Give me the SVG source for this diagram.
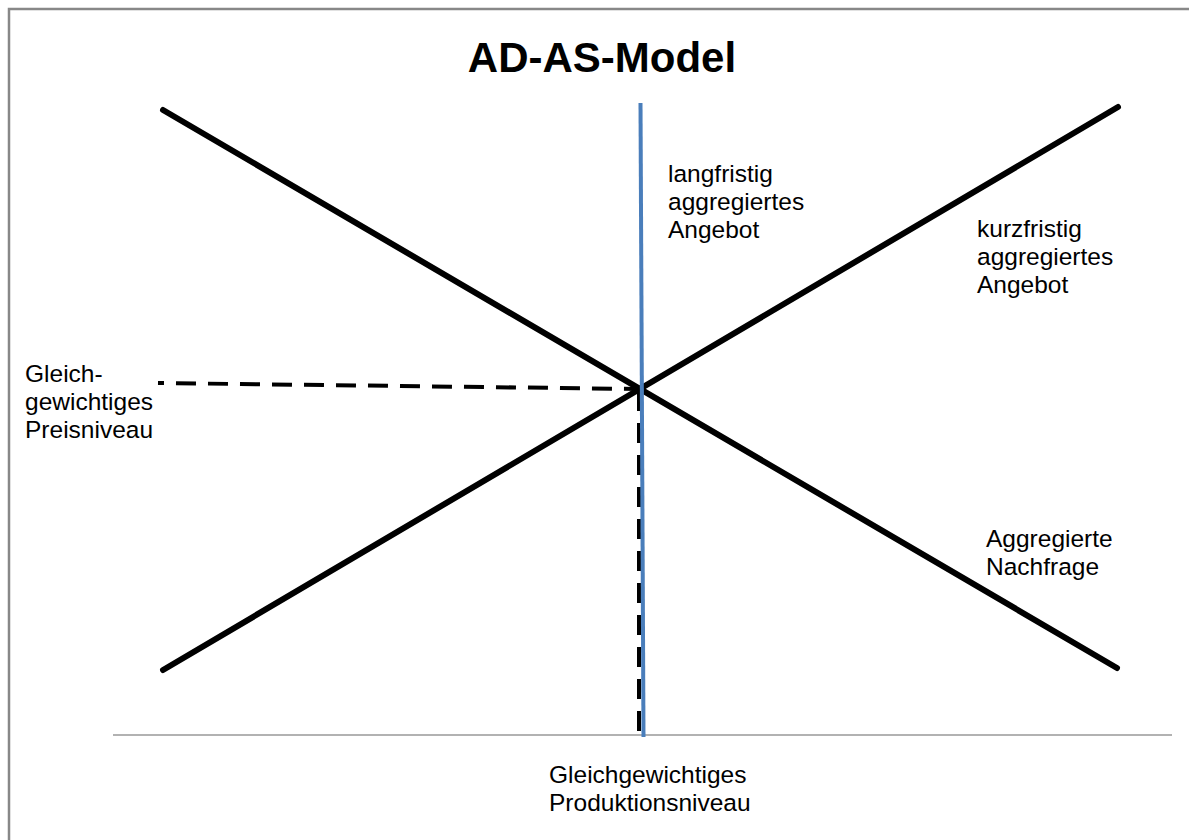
<svg xmlns="http://www.w3.org/2000/svg" width="1189" height="840" viewBox="0 0 1189 840">
<style>
.lbl{font-family:"Liberation Sans",Arial,sans-serif;font-size:24.5px;fill:#000}
.title{font-family:"Liberation Sans",Arial,sans-serif;font-size:42px;font-weight:bold;fill:#000}
.curve{stroke:#000;stroke-width:6;stroke-linecap:round;fill:none}
.dash{stroke:#000;stroke-width:4;stroke-dasharray:20,12;fill:none}
</style>
<rect x="0" y="0" width="1189" height="840" fill="#fff"/>
<path d="M9,840 V9 H1189" fill="none" stroke="#888" stroke-width="2.5"/>
<g id="title"><text class="title" x="602" y="72" text-anchor="middle">AD-AS-Model</text></g>
<g id="connectors">
<line x1="113" y1="735" x2="1172" y2="735" stroke="#999" stroke-width="1.5"/>
<line class="dash" x1="158" y1="383" x2="638" y2="389" stroke-dashoffset="14"/>
<line class="dash" x1="639" y1="391" x2="639" y2="733" stroke-width="3"/>
<line class="curve" x1="163" y1="110" x2="1117" y2="668"/>
<line class="curve" x1="163" y1="670" x2="1118" y2="107"/>
<line x1="640.5" y1="103" x2="643.5" y2="737" stroke="#4a7ebb" stroke-width="4"/>
</g>
<g id="lras"><text class="lbl" x="668" y="182">langfristig</text><text class="lbl" x="668" y="210">aggregiertes</text><text class="lbl" x="668" y="238">Angebot</text></g>
<g id="sras"><text class="lbl" x="977" y="237">kurzfristig</text><text class="lbl" x="977" y="265">aggregiertes</text><text class="lbl" x="977" y="293">Angebot</text></g>
<g id="ad"><text class="lbl" x="986" y="547">Aggregierte</text><text class="lbl" x="986" y="575">Nachfrage</text></g>
<g id="price"><text class="lbl" x="25" y="382">Gleich-</text><text class="lbl" x="25" y="410">gewichtiges</text><text class="lbl" x="25" y="438">Preisniveau</text></g>
<g id="output"><text class="lbl" x="549" y="783">Gleichgewichtiges</text><text class="lbl" x="549" y="811">Produktionsniveau</text></g>
</svg>
